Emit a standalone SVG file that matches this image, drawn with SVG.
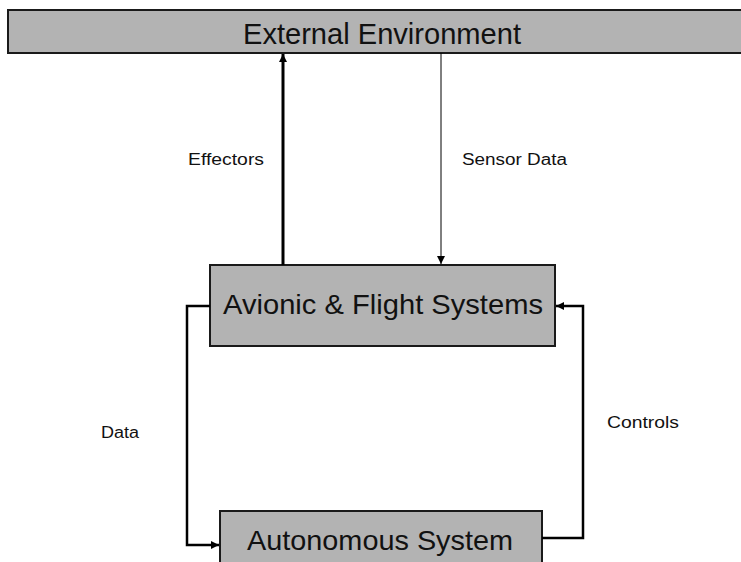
<svg xmlns="http://www.w3.org/2000/svg" width="741" height="562" viewBox="0 0 741 562">
  <style>
    .box { fill: #b3b3b3; stroke: #1a1a1a; stroke-width: 2; }
    .title { font-family: "Liberation Sans", Arial, sans-serif; fill: #111; text-anchor: middle; }
    .label { font-family: "Liberation Sans", Arial, sans-serif; font-size: 16px; fill: #111; }
    .wire { fill: none; stroke: #000; }
  </style>
  <defs>
    <marker id="arrow" viewBox="0 0 10 10" refX="10" refY="5" markerWidth="9" markerHeight="8" markerUnits="userSpaceOnUse" orient="auto">
      <path d="M0,0 L10,5 L0,10 z" fill="#000"/>
    </marker>
  </defs>

  <g id="external-environment">
    <rect class="box" x="8" y="10" width="740" height="43"/>
    <text class="title" x="382" y="44" font-size="29" textLength="278" lengthAdjust="spacingAndGlyphs">External Environment</text>
  </g>

  <g id="avionic-flight-systems">
    <rect class="box" x="210" y="265" width="345" height="81"/>
    <text class="title" x="383" y="314" font-size="28" textLength="320" lengthAdjust="spacingAndGlyphs">Avionic &amp; Flight Systems</text>
  </g>

  <g id="autonomous-system">
    <rect class="box" x="220" y="511" width="322" height="60"/>
    <text class="title" x="380" y="550" font-size="28" textLength="266" lengthAdjust="spacingAndGlyphs">Autonomous System</text>
  </g>

  <g id="connectors">
    <!-- Effectors: avionics up to environment -->
    <line class="wire" x1="283" y1="265" x2="283" y2="54" stroke-width="3" marker-end="url(#arrow)"/>
    <!-- Sensor data: environment down to avionics -->
    <line class="wire" x1="441" y1="53" x2="441" y2="264" stroke-width="1" marker-end="url(#arrow)"/>
    <!-- Data: avionics to autonomous system -->
    <polyline class="wire" points="210,306 187,306 187,545 219,545" stroke-width="2.5" marker-end="url(#arrow)"/>
    <!-- Controls: autonomous system back to avionics -->
    <polyline class="wire" points="542,538 583,538 583,306 556,306" stroke-width="2.5" marker-end="url(#arrow)"/>
  </g>

  <g id="labels">
    <text class="label" x="188" y="165" textLength="76" lengthAdjust="spacingAndGlyphs">Effectors</text>
    <text class="label" x="462" y="165" textLength="105" lengthAdjust="spacingAndGlyphs">Sensor Data</text>
    <text class="label" x="101" y="438" textLength="38" lengthAdjust="spacingAndGlyphs">Data</text>
    <text class="label" x="607" y="428" textLength="72" lengthAdjust="spacingAndGlyphs">Controls</text>
  </g>
</svg>
